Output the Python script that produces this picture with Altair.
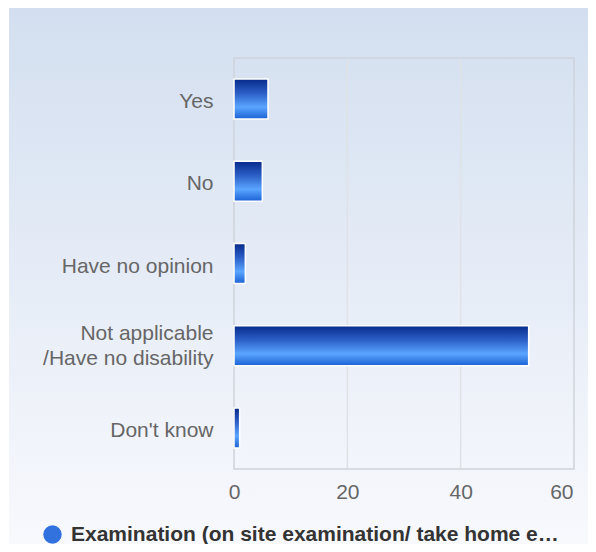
import altair as alt
import pandas as pd

categories = ["Yes", "No", "Have no opinion", "Not applicable\n/Have no disability", "Don't know"]
values = [6, 5, 2, 52, 1]
series_name = "Examination (on site examination/ take home examination)"
x_ticks = [0, 20, 40, 60]
grid_ticks = [20, 40]

W, H = 340, 411
PAD = {"left": 226, "top": 50, "right": 14, "bottom": 75}

bars_df = pd.DataFrame({"category": categories, "value": values})
grid_df = pd.DataFrame({"v": grid_ticks})
one_df = pd.DataFrame({"series": [series_name]})

bg_grad = alt.Gradient(
    gradient="linear", x1=0, y1=0, x2=0, y2=1,
    stops=[alt.GradientStop(offset=0, color="#d3dff0"),
           alt.GradientStop(offset=1, color="#f8f9fd")],
)
bar_grad = alt.Gradient(
    gradient="linear", x1=0, y1=0, x2=0, y2=1,
    stops=[alt.GradientStop(offset=0, color="#062a8a"),
           alt.GradientStop(offset=0.35, color="#2b5ec6"),
           alt.GradientStop(offset=0.7, color="#5aa5ff"),
           alt.GradientStop(offset=1, color="#1b61d4")],
)

xscale = alt.Scale(domain=[0, 60], nice=False)
xaxis = alt.Axis(values=x_ticks, grid=False, ticks=False, domain=False,
                 labelPadding=12, zindex=1, labelFlush=False,
                 labelAlign=alt.ExprRef("datum.value == 60 ? 'right' : 'center'"),
                 labelOffset=alt.ExprRef("datum.value == 60 ? -1 : 0"))

bg = alt.Chart(one_df).mark_rect(fill=bg_grad, clip=False).encode(
    x=alt.value(-PAD["left"] + 1), x2=alt.value(W + PAD["right"]),
    y=alt.value(-PAD["top"]), y2=alt.value(H + PAD["bottom"]),
)

grid = alt.Chart(grid_df).mark_rule(color="#e0e2e6", strokeWidth=1.5).encode(
    x=alt.X("v:Q", scale=xscale, title="", axis=xaxis),
)

border = alt.Chart(one_df).mark_rect(fillOpacity=0, stroke="#cfd3da", strokeWidth=1.5).encode(
    x=alt.value(0), x2=alt.value(W), y=alt.value(0), y2=alt.value(H),
)

bars = alt.Chart(bars_df).mark_bar(fill=bar_grad, stroke="white", strokeWidth=1.5).encode(
    x=alt.X("value:Q", scale=xscale, title="", axis=xaxis),
    y=alt.Y("category:N", sort=categories, title="",
            scale=alt.Scale(paddingInner=0.513, paddingOuter=0.2565),
            axis=alt.Axis(ticks=False, domain=False, labelPadding=21, zindex=1,
                          labelExpr="split(datum.label, '\\n')", labelLineHeight=25,
                          labelOffset=alt.ExprRef("indexof(datum.value, '/Have') >= 0 ? -12 : 3"))),
)

legend_pts = alt.Chart(one_df).mark_point(filled=True, opacity=0).encode(
    x=alt.value(0), y=alt.value(0),
    color=alt.Color("series:N", scale=alt.Scale(range=["#3272de"]),
                    legend=alt.Legend(orient="none", legendX=-192, legendY=466,
                                      title=None, symbolType="circle", symbolSize=340,
                                      symbolOpacity=1, symbolStrokeWidth=0,
                                      labelFontSize=21, labelFontWeight="bold",
                                      labelColor="#333333", labelFont="Liberation Sans",
                                      labelLimit=496, labelOffset=8, zindex=1)),
)

chart = alt.layer(bg, grid, border, bars, legend_pts).properties(
    width=W, height=H,
    autosize=alt.AutoSizeParams(type="none"),
    padding=PAD,
).configure(
    background="white",
).configure_view(
    stroke=None,
).configure_axis(
    labelFont="Liberation Sans", labelFontSize=21, labelColor="#666666",
)

chart.save("out.html", embed_options={"renderer": "svg", "actions": False})
